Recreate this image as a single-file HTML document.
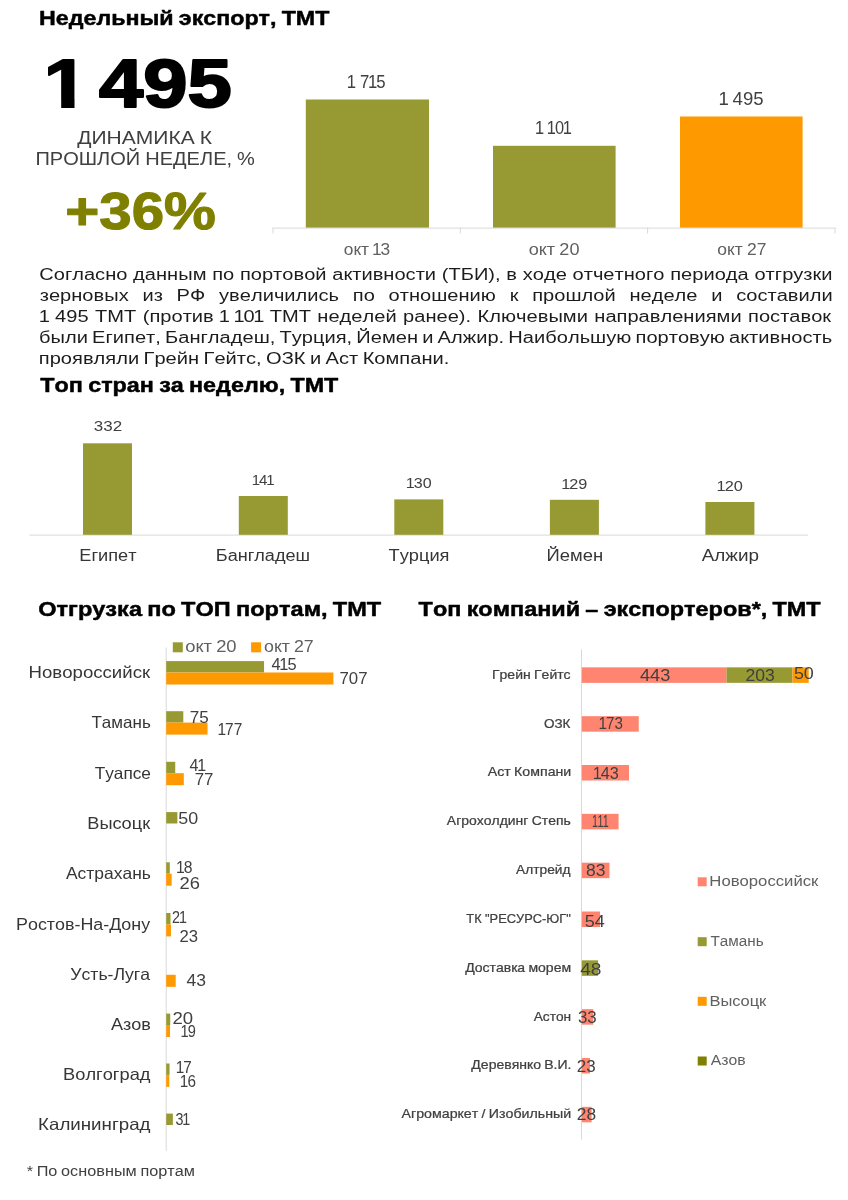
<!DOCTYPE html>
<html lang="ru"><head><meta charset="utf-8"><title>Недельный экспорт, ТМТ</title>
<style>
html,body{margin:0;padding:0;background:#fff}
body{width:848px;height:1200px;overflow:hidden}
svg{display:block;font-family:"Liberation Sans",sans-serif}
text{white-space:pre;font-kerning:none}
</style></head><body>
<svg width="848" height="1200" viewBox="0 0 848 1200">
<text transform="translate(39.04,24.85) scale(1.1584,1)" font-size="20.06" font-weight="700" stroke="#000000" stroke-width="0.50" stroke-linejoin="round" vector-effect="non-scaling-stroke" dx="0 0 0 0 0 0 0 0 0 0 -1.04 0 0 0 0 0 0 0 0 -1.04 0 0" fill="#000000">Недельный экспорт, ТМТ</text>
<text transform="translate(40.32,391.55) scale(1.1633,1)" font-size="20.06" font-weight="700" stroke="#000000" stroke-width="0.50" stroke-linejoin="round" vector-effect="non-scaling-stroke" dx="0 0 0 0 -1.06 0 0 0 0 0 -1.06 0 0 -1.06 0 0 0 0 0 0 0 -1.06 0 0" fill="#000000">Топ стран за неделю, ТМТ</text>
<text transform="translate(38.21,616.05) scale(1.1744,1)" font-size="20.06" font-weight="700" stroke="#000000" stroke-width="0.50" stroke-linejoin="round" vector-effect="non-scaling-stroke" dx="0 0 0 0 0 0 0 0 0 -1.1 0 0 -1.1 0 0 0 -1.1 0 0 0 0 0 0 0 -1.1 0 0" fill="#000000">Отгрузка по ТОП портам, ТМТ</text>
<text transform="translate(418.62,616.05) scale(1.1675,1)" font-size="20.06" font-weight="700" stroke="#000000" stroke-width="0.50" stroke-linejoin="round" vector-effect="non-scaling-stroke" dx="0 0 0 0 -1.08 0 0 0 0 0 0 0 0 -1.08 0 -1.08 0 0 0 0 0 0 0 0 0 0 0 0 0 -1.08 0 0" fill="#000000">Топ компаний – экспортеров*, ТМТ</text>
<text transform="translate(43.83,107.30) scale(1.1747,1)" font-size="67.73" font-weight="700" stroke="#000000" stroke-width="2.2" stroke-linejoin="round" vector-effect="non-scaling-stroke" dx="0 0 -9.60" fill="#000000">1 495</text>
<rect x="45.51" y="98.89" width="15.69" height="10.61" fill="#FFFFFF"/>
<rect x="74.51" y="98.89" width="14.25" height="10.61" fill="#FFFFFF"/>
<text transform="translate(77.19,144.20) scale(1.1131,1)" font-size="18.90" dx="0 0 0 0 0 0 0 0 0 -0.81" fill="#404040">ДИНАМИКА К</text>
<text transform="translate(35.40,165.20) scale(1.0599,1)" font-size="18.90" dx="0 0 0 0 0 0 0 0 -0.58 0 0 0 0 0 0 0 -0.58" fill="#404040">ПРОШЛОЙ НЕДЕЛЕ, %</text>
<text transform="translate(65.27,229.40) scale(1.1195,1)" font-size="52.04" font-weight="700" stroke="#808000" stroke-width="1.20" stroke-linejoin="round" vector-effect="non-scaling-stroke" fill="#808000">+36%</text>
<rect x="272.50" y="227.60" width="563.00" height="1.00" fill="#D9D9D9"/>
<rect x="272.50" y="227.60" width="1.00" height="6.00" fill="#D9D9D9"/>
<rect x="459.80" y="227.60" width="1.00" height="6.00" fill="#D9D9D9"/>
<rect x="647.10" y="227.60" width="1.00" height="6.00" fill="#D9D9D9"/>
<rect x="834.50" y="227.60" width="1.00" height="6.00" fill="#D9D9D9"/>
<rect x="305.80" y="99.50" width="123.20" height="128.10" fill="#979A33"/>
<rect x="493.00" y="145.80" width="122.60" height="81.80" fill="#979A33"/>
<rect x="680.00" y="116.50" width="122.60" height="111.10" fill="#FF9900"/>
<text transform="translate(346.74,87.50) scale(0.8860,1)" font-size="18.90" dx="0 -1.13 0.31 -1.42 -1.13" fill="#404040">1 715</text>
<text transform="translate(534.97,134.20) scale(0.8676,1)" font-size="18.90" dx="0 -1.13 -0.99 -1.13 -1.42" fill="#404040">1 101</text>
<text transform="translate(718.41,105.00) scale(0.9830,1)" font-size="18.90" dx="0 -1.13 -0.23 0 0" fill="#404040">1 495</text>
<text transform="translate(343.81,254.50) scale(1.0558,1)" font-size="16.42" dx="0 0 0 0 -1.72 -0.99" fill="#606060">окт 13</text>
<text transform="translate(528.78,254.50) scale(1.1015,1)" font-size="16.42" dx="0 0 0 0 -0.66 0" fill="#606060">окт 20</text>
<text transform="translate(717.30,254.50) scale(1.0632,1)" font-size="16.42" dx="0 0 0 0 -0.53 0" fill="#606060">окт 27</text>
<text transform="translate(39.20,280.00) scale(1.1920,1)" font-size="16.86" fill="#1c1c1c" dx="0 0 0 0 0 0 0 0 0 0.09 0 0 0 0 0 0 0.09 0 0 0.09 0 0 0 0 0 0 0 0 0.09 0 0 0 0 0 0 0 0 0 0 0.09 0 0 0 0 0 0 0.09 0 0.09 0 0 0 0 0.09 0 0 0 0 0 0 0 0 0 0.09 0 0 0 0 0 0 0 0.09 0 0 0 0 0 0 0">Согласно данным по портовой активности (ТБИ), в ходе отчетного периода отгрузки</text>
<text transform="translate(39.70,301.00) scale(1.1920,1)" font-size="16.86" fill="#1c1c1c" dx="0 0 0 0 0 0 0 0 0 6.85 0 0 6.85 0 0 6.85 0 0 0 0 0 0 0 0 0 0 0 6.85 0 0 6.85 0 0 0 0 0 0 0 0 0 6.85 0 6.85 0 0 0 0 0 0 0 6.85 0 0 0 0 0 0 6.85 0 6.85 0 0 0 0 0 0 0 0">зерновых из РФ увеличились по отношению к прошлой неделе и составили</text>
<text transform="translate(38.69,322.00) scale(1.1920,1)" font-size="16.86" fill="#1c1c1c" dx="0 -1.01 0.71 0 0 0 0.71 0 0 0 0.71 0 0 0 0 0 0 0 -0.55 -1.01 -0.55 -1.01 -1.26 -1.01 0.71 0 0 0 0.71 0 0 0 0 0 0 0 0.71 0 0 0 0 0 0 0 0.71 0 0 0 0 0 0 0 0 0 0.71 0 0 0 0 0 0 0 0 0 0 0 0 0 0.71 0 0 0 0 0 0 0">1 495 ТМТ (против 1 101 ТМТ неделей ранее). Ключевыми направлениями поставок</text>
<text transform="translate(38.99,343.00) scale(1.1920,1)" font-size="16.86" fill="#1c1c1c" dx="0 0 0 0 0 -1.19 0 0 0 0 0 0 0 -1.19 0 0 0 0 0 0 0 0 0 0 -1.19 0 0 0 0 0 0 0 -1.19 0 0 0 0 0 -1.19 0 -1.19 0 0 0 0 0 0 -1.19 0 0 0 0 0 0 0 0 0 0 -1.19 0 0 0 0 0 0 0 0 -1.19 0 0 0 0 0 0 0 0 0">были Египет, Бангладеш, Турция, Йемен и Алжир. Наибольшую портовую активность</text>
<text transform="translate(38.79,364.00) scale(1.1920,1)" font-size="16.86" fill="#1c1c1c" dx="0 0 0 0 0 0 0 0 0 0 -0.98 0 0 0 0 0 -0.98 0 0 0 0 0 0 -0.98 0 0 0 -0.98 0 -0.98 0 0 0 -0.98 0 0 0 0 0 0 0">проявляли Грейн Гейтс, ОЗК и Аст Компани.</text>
<rect x="29.50" y="534.60" width="778.50" height="1.00" fill="#D9D9D9"/>
<rect x="83.00" y="443.30" width="49.00" height="91.50" fill="#979A33"/>
<rect x="238.80" y="496.00" width="49.00" height="38.80" fill="#979A33"/>
<rect x="394.30" y="499.40" width="49.00" height="35.40" fill="#979A33"/>
<rect x="549.90" y="499.80" width="49.00" height="35.00" fill="#979A33"/>
<rect x="705.40" y="502.00" width="49.00" height="32.80" fill="#979A33"/>
<text transform="translate(93.82,431.00) scale(1.1149,1)" font-size="15.26" fill="#404040">332</text>
<text transform="translate(251.67,485.20) scale(0.9852,1)" font-size="15.26" dx="0 -0.92 -1.14" fill="#404040">141</text>
<text transform="translate(405.80,488.20) scale(1.0519,1)" font-size="15.26" dx="0 -0.92 0" fill="#404040">130</text>
<text transform="translate(561.18,488.80) scale(1.0634,1)" font-size="15.26" dx="0 -0.92 0" fill="#404040">129</text>
<text transform="translate(716.57,491.40) scale(1.0738,1)" font-size="15.26" dx="0 -0.92 0" fill="#404040">120</text>
<text transform="translate(79.34,561.40) scale(1.1485,1)" font-size="15.84" fill="#363636">Египет</text>
<text transform="translate(215.75,561.40) scale(1.1440,1)" font-size="15.84" fill="#363636">Бангладеш</text>
<text transform="translate(388.54,561.40) scale(1.1518,1)" font-size="15.84" fill="#363636">Турция</text>
<text transform="translate(546.52,561.40) scale(1.1653,1)" font-size="15.84" fill="#363636">Йемен</text>
<text transform="translate(701.70,561.40) scale(1.1928,1)" font-size="15.84" fill="#363636">Алжир</text>
<rect x="165.70" y="647.50" width="1.00" height="503.50" fill="#D9D9D9"/>
<rect x="172.80" y="642.30" width="10.00" height="10.00" fill="#979A33"/>
<text transform="translate(185.26,652.00) scale(1.1730,1)" font-size="15.70" dx="0 0 0 0 -0.86 0" fill="#606060">окт 20</text>
<rect x="251.10" y="642.30" width="10.00" height="10.00" fill="#FF9900"/>
<text transform="translate(263.99,652.00) scale(1.1328,1)" font-size="15.70" dx="0 0 0 0 -0.73 0" fill="#606060">окт 27</text>
<rect x="166.20" y="661.10" width="97.86" height="11.40" fill="#979A33"/>
<rect x="166.20" y="672.50" width="167.21" height="12.00" fill="#FF9900"/>
<text transform="translate(28.51,677.90) scale(1.1439,1)" font-size="16.28" fill="#363636">Новороссийск</text>
<rect x="166.20" y="711.20" width="17.11" height="11.40" fill="#979A33"/>
<rect x="166.20" y="722.60" width="41.34" height="12.00" fill="#FF9900"/>
<text transform="translate(91.46,728.00) scale(1.0474,1)" font-size="16.28" fill="#363636">Тамань</text>
<rect x="166.20" y="761.80" width="9.04" height="11.40" fill="#979A33"/>
<rect x="166.20" y="773.20" width="17.59" height="12.00" fill="#FF9900"/>
<text transform="translate(94.66,778.60) scale(1.0596,1)" font-size="16.28" fill="#363636">Туапсе</text>
<rect x="166.20" y="812.10" width="11.18" height="11.40" fill="#979A33"/>
<text transform="translate(87.34,828.90) scale(1.1175,1)" font-size="16.28" fill="#363636">Высоцк</text>
<rect x="166.20" y="862.30" width="3.58" height="11.40" fill="#979A33"/>
<rect x="166.20" y="873.70" width="5.48" height="12.00" fill="#FF9900"/>
<text transform="translate(65.90,879.10) scale(1.0732,1)" font-size="16.28" fill="#363636">Астрахань</text>
<rect x="166.20" y="913.00" width="4.29" height="11.40" fill="#979A33"/>
<rect x="166.20" y="924.40" width="4.76" height="12.00" fill="#FF9900"/>
<text transform="translate(16.07,929.80) scale(1.0986,1)" font-size="16.28" fill="#363636">Ростов-На-Дону</text>
<rect x="166.20" y="974.80" width="9.51" height="12.00" fill="#FF9900"/>
<text transform="translate(70.27,980.20) scale(1.0851,1)" font-size="16.28" fill="#363636">Усть-Луга</text>
<rect x="166.20" y="1013.60" width="4.05" height="11.40" fill="#979A33"/>
<rect x="166.20" y="1025.00" width="3.81" height="12.00" fill="#FF9900"/>
<text transform="translate(111.00,1030.40) scale(1.1097,1)" font-size="16.28" fill="#363636">Азов</text>
<rect x="166.20" y="1063.50" width="3.34" height="11.40" fill="#979A33"/>
<rect x="166.20" y="1074.90" width="3.10" height="12.00" fill="#FF9900"/>
<text transform="translate(63.04,1080.30) scale(1.1225,1)" font-size="16.28" fill="#363636">Волгоград</text>
<rect x="166.20" y="1113.60" width="6.66" height="11.40" fill="#979A33"/>
<text transform="translate(38.10,1130.40) scale(1.1505,1)" font-size="16.28" fill="#363636">Калининград</text>
<text transform="translate(271.47,670.20) scale(1.0254,1)" font-size="15.99" dx="0 -1.2 -0.96" fill="#404040">415</text>
<text transform="translate(339.46,684.30) scale(1.0511,1)" font-size="15.99" fill="#404040">707</text>
<text transform="translate(189.75,722.60) scale(1.0669,1)" font-size="15.99" fill="#404040">75</text>
<text transform="translate(217.44,735.30) scale(0.9677,1)" font-size="15.99" dx="0 -0.96 0" fill="#404040">177</text>
<text transform="translate(189.48,770.60) scale(1.0059,1)" font-size="15.99" dx="0 -1.2" fill="#404040">41</text>
<text transform="translate(194.66,784.70) scale(1.0527,1)" font-size="15.99" fill="#404040">77</text>
<text transform="translate(178.29,823.50) scale(1.1179,1)" font-size="15.99" fill="#404040">50</text>
<text transform="translate(175.92,873.00) scale(0.9833,1)" font-size="15.99" dx="0 -0.96" fill="#404040">18</text>
<text transform="translate(179.58,888.60) scale(1.1466,1)" font-size="15.99" fill="#404040">26</text>
<text transform="translate(171.98,923.40) scale(0.8982,1)" font-size="15.99" dx="0 -1.2" fill="#404040">21</text>
<text transform="translate(179.47,942.40) scale(1.0424,1)" font-size="15.99" fill="#404040">23</text>
<text transform="translate(186.45,985.70) scale(1.0960,1)" font-size="15.99" fill="#404040">43</text>
<text transform="translate(172.57,1023.90) scale(1.1594,1)" font-size="15.99" fill="#404040">20</text>
<text transform="translate(180.60,1037.20) scale(0.9146,1)" font-size="15.99" dx="0 -0.96" fill="#404040">19</text>
<text transform="translate(175.76,1073.40) scale(0.9534,1)" font-size="15.99" dx="0 -0.96" fill="#404040">17</text>
<text transform="translate(179.85,1086.70) scale(0.9566,1)" font-size="15.99" dx="0 -0.96" fill="#404040">16</text>
<text transform="translate(175.43,1124.90) scale(0.8954,1)" font-size="15.99" dx="0 -1.2" fill="#404040">31</text>
<text transform="translate(26.66,1175.90) scale(1.1659,1)" font-size="13.95" dx="0 0 -0.74 0 0 -0.74 0 0 0 0 0 0 0 0 -0.74 0 0 0 0 0" fill="#404040">* По основным портам</text>
<rect x="581.00" y="649.40" width="1.00" height="490.20" fill="#D9D9D9"/>
<rect x="581.80" y="667.35" width="144.68" height="15.50" fill="#FF8571"/>
<rect x="726.48" y="667.35" width="65.98" height="15.50" fill="#979A33"/>
<rect x="792.45" y="667.35" width="16.25" height="15.50" fill="#FF9900"/>
<text transform="translate(492.00,678.73) scale(1.1137,1)" font-size="12.57" stroke="#404040" stroke-width="0.25" stroke-linejoin="round" vector-effect="non-scaling-stroke" dx="0 0 0 0 0 0 -0.54 0 0 0 0" fill="#404040">Грейн Гейтс</text>
<rect x="581.80" y="716.18" width="56.93" height="15.50" fill="#FF8571"/>
<text transform="translate(543.92,727.56) scale(1.0723,1)" font-size="12.57" stroke="#404040" stroke-width="0.25" stroke-linejoin="round" vector-effect="non-scaling-stroke" fill="#404040">ОЗК</text>
<rect x="581.80" y="765.01" width="47.18" height="15.50" fill="#FF8571"/>
<text transform="translate(487.82,776.38) scale(1.1258,1)" font-size="12.57" stroke="#404040" stroke-width="0.25" stroke-linejoin="round" vector-effect="non-scaling-stroke" dx="0 0 0 0 -0.57 0 0 0 0 0 0" fill="#404040">Аст Компани</text>
<rect x="581.80" y="813.84" width="36.78" height="15.50" fill="#FF8571"/>
<text transform="translate(446.82,825.22) scale(1.1113,1)" font-size="12.57" stroke="#404040" stroke-width="0.25" stroke-linejoin="round" vector-effect="non-scaling-stroke" dx="0 0 0 0 0 0 0 0 0 0 0 0 -0.53 0 0 0 0" fill="#404040">Агрохолдинг Степь</text>
<rect x="581.80" y="862.67" width="27.68" height="15.50" fill="#FF8571"/>
<text transform="translate(516.12,874.05) scale(1.0917,1)" font-size="12.57" stroke="#404040" stroke-width="0.25" stroke-linejoin="round" vector-effect="non-scaling-stroke" fill="#404040">Алтрейд</text>
<rect x="581.80" y="911.50" width="18.25" height="15.50" fill="#FF8571"/>
<text transform="translate(466.37,922.88) scale(1.0222,1)" font-size="12.57" stroke="#404040" stroke-width="0.25" stroke-linejoin="round" vector-effect="non-scaling-stroke" dx="0 0 0 -0.27 0 0 0 0 0 0 0 0 0 0" fill="#404040">ТК &quot;РЕСУРС-ЮГ&quot;</text>
<rect x="581.80" y="960.33" width="16.30" height="15.50" fill="#979A33"/>
<text transform="translate(465.15,971.71) scale(1.1170,1)" font-size="12.57" stroke="#404040" stroke-width="0.25" stroke-linejoin="round" vector-effect="non-scaling-stroke" dx="0 0 0 0 0 0 0 0 0 -0.55 0 0 0 0" fill="#404040">Доставка морем</text>
<rect x="581.80" y="1009.16" width="11.43" height="15.50" fill="#FF8571"/>
<text transform="translate(533.73,1020.54) scale(1.0908,1)" font-size="12.57" stroke="#404040" stroke-width="0.25" stroke-linejoin="round" vector-effect="non-scaling-stroke" fill="#404040">Астон</text>
<rect x="581.80" y="1057.99" width="8.18" height="15.50" fill="#FF8571"/>
<text transform="translate(471.35,1069.37) scale(1.1160,1)" font-size="12.57" stroke="#404040" stroke-width="0.25" stroke-linejoin="round" vector-effect="non-scaling-stroke" dx="0 0 0 0 0 0 0 0 0 0 -0.55 0 0 0" fill="#404040">Деревянко В.И.</text>
<rect x="581.80" y="1106.82" width="9.80" height="15.50" fill="#FF8571"/>
<text transform="translate(401.52,1118.19) scale(1.1312,1)" font-size="12.57" stroke="#404040" stroke-width="0.25" stroke-linejoin="round" vector-effect="non-scaling-stroke" dx="0 0 0 0 0 0 0 0 0 0 0 -0.58 0 -0.58 0 0 0 0 0 0 0 0 0" fill="#404040">Агромаркет / Изобильный</text>
<text transform="translate(639.94,680.70) scale(1.1176,1)" font-size="16.28" fill="#404040">443</text>
<text transform="translate(745.42,680.70) scale(1.0803,1)" font-size="16.28" fill="#404040">203</text>
<text transform="translate(793.88,679.20) scale(1.1039,1)" font-size="16.28" fill="#404040">50</text>
<text transform="translate(598.46,729.20) scale(0.9317,1)" font-size="16.28" dx="0 -0.98 0" fill="#404040">173</text>
<text transform="translate(592.78,778.50) scale(0.9977,1)" font-size="16.28" dx="0 -0.98 0" fill="#404040">143</text>
<text transform="translate(592.09,827.40) scale(0.6638,1)" font-size="16.28" dx="0 -0.98 -0.98" fill="#404040">111</text>
<text transform="translate(586.11,876.00) scale(1.0727,1)" font-size="16.28" fill="#404040">83</text>
<text transform="translate(584.68,927.30) scale(1.1104,1)" font-size="16.28" fill="#404040">54</text>
<text transform="translate(580.22,974.80) scale(1.1759,1)" font-size="16.28" fill="#404040">48</text>
<text transform="translate(577.92,1023.10) scale(1.0377,1)" font-size="16.28" fill="#404040">33</text>
<text transform="translate(576.85,1071.80) scale(1.0419,1)" font-size="16.28" fill="#404040">23</text>
<text transform="translate(576.83,1120.40) scale(1.0659,1)" font-size="16.28" fill="#404040">28</text>
<rect x="697.70" y="877.30" width="9.00" height="9.00" fill="#FF8571"/>
<text transform="translate(709.36,886.10) scale(1.2094,1)" font-size="13.81" fill="#606060">Новороссийск</text>
<rect x="697.70" y="937.20" width="9.00" height="9.00" fill="#979A33"/>
<text transform="translate(710.39,946.00) scale(1.1080,1)" font-size="13.81" fill="#606060">Тамань</text>
<rect x="697.70" y="996.80" width="9.00" height="9.00" fill="#FF9900"/>
<text transform="translate(709.38,1005.60) scale(1.1952,1)" font-size="13.81" fill="#606060">Высоцк</text>
<rect x="697.70" y="1056.50" width="9.00" height="9.00" fill="#808000"/>
<text transform="translate(710.70,1065.30) scale(1.1414,1)" font-size="13.81" fill="#606060">Азов</text>
</svg>
</body></html>
